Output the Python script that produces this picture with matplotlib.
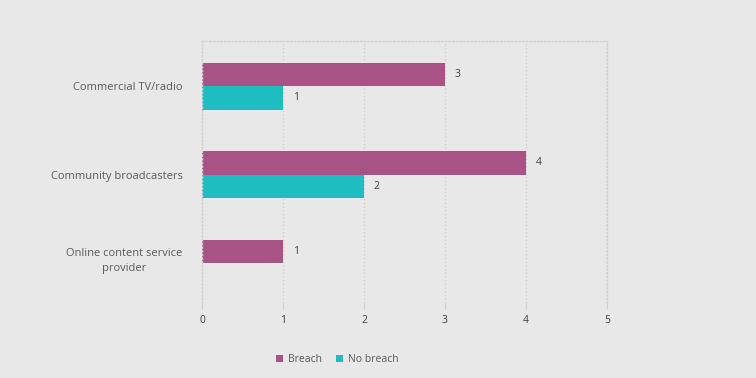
import matplotlib
matplotlib.use('Agg')
import matplotlib.pyplot as plt
import matplotlib.transforms as mtransforms
import numpy as np

categories = ['Commercial TV/radio', 'Community broadcasters', 'Online content service\nprovider']
breach = [3, 4, 1]
no_breach = [1, 2, 0]
series_names = ['Breach', 'No breach']
colors = ['#a85386', '#1dbdc0']
xticks = [0, 1, 2, 3, 4, 5]

plt.rcParams['font.family'] = ['Open Sans', 'DejaVu Sans']

fig = plt.figure(figsize=(7.56, 3.78), dpi=100, facecolor='#e8e8e8')
ax = fig.add_axes([0.2672, 0.1984, 0.5357, 0.693])
ax.set_facecolor('#e8e8e8')

y = np.arange(len(categories))
h = 0.265
b1 = ax.barh(y - h / 2, breach, height=h, color=colors[0], label=series_names[0])
nb = [v if v else np.nan for v in no_breach]
b2 = ax.barh(y + h / 2, nb, height=h, color=colors[1], label=series_names[1])

for bars, vals in ((b1, breach), (b2, no_breach)):
    for rect, v in zip(bars, vals):
        if v:
            ax.annotate(str(v), (v, rect.get_y() + rect.get_height() / 2),
                        xytext=(7, 0), textcoords='offset points',
                        va='center', ha='left', fontsize=7.5, color='#404040')

ax.set_xlim(0, 5)
ax.set_ylim(2.45, -0.51)
ax.set_xticks(xticks)
ax.set_yticks(y)
ax.set_yticklabels(categories, fontsize=8, color='#595959', linespacing=1.5)
ax.tick_params(axis='y', length=0, pad=14)
ax.tick_params(axis='x', length=4, color='#d0d0d0', labelsize=7.5, labelcolor='#404040', pad=4.5)
for lbl in ax.get_yticklabels():
    lbl.set_horizontalalignment('right')
    lbl.set_multialignment('center')
    if '\n' in lbl.get_text():
        lbl.set_transform(lbl.get_transform() + mtransforms.ScaledTranslation(0, 4 / 72, fig.dpi_scale_trans))

ax.grid(axis='x', color='#cfcfcf', linestyle=':', linewidth=1)
ax.set_axisbelow(True)
for s in ax.spines.values():
    s.set_color('#cfcfcf')
    s.set_linestyle(':')
    s.set_linewidth(1)
ax.spines['bottom'].set_visible(False)

fig.legend(handles=[b1, b2], labels=series_names, loc='center', bbox_to_anchor=(0.446, 0.048),
           ncol=2, frameon=False, fontsize=7.5, labelcolor='#595959',
           handlelength=0.7, handleheight=0.7, handletextpad=0.5, columnspacing=1.3)

fig.savefig('out.png', dpi=100, facecolor=fig.get_facecolor())
